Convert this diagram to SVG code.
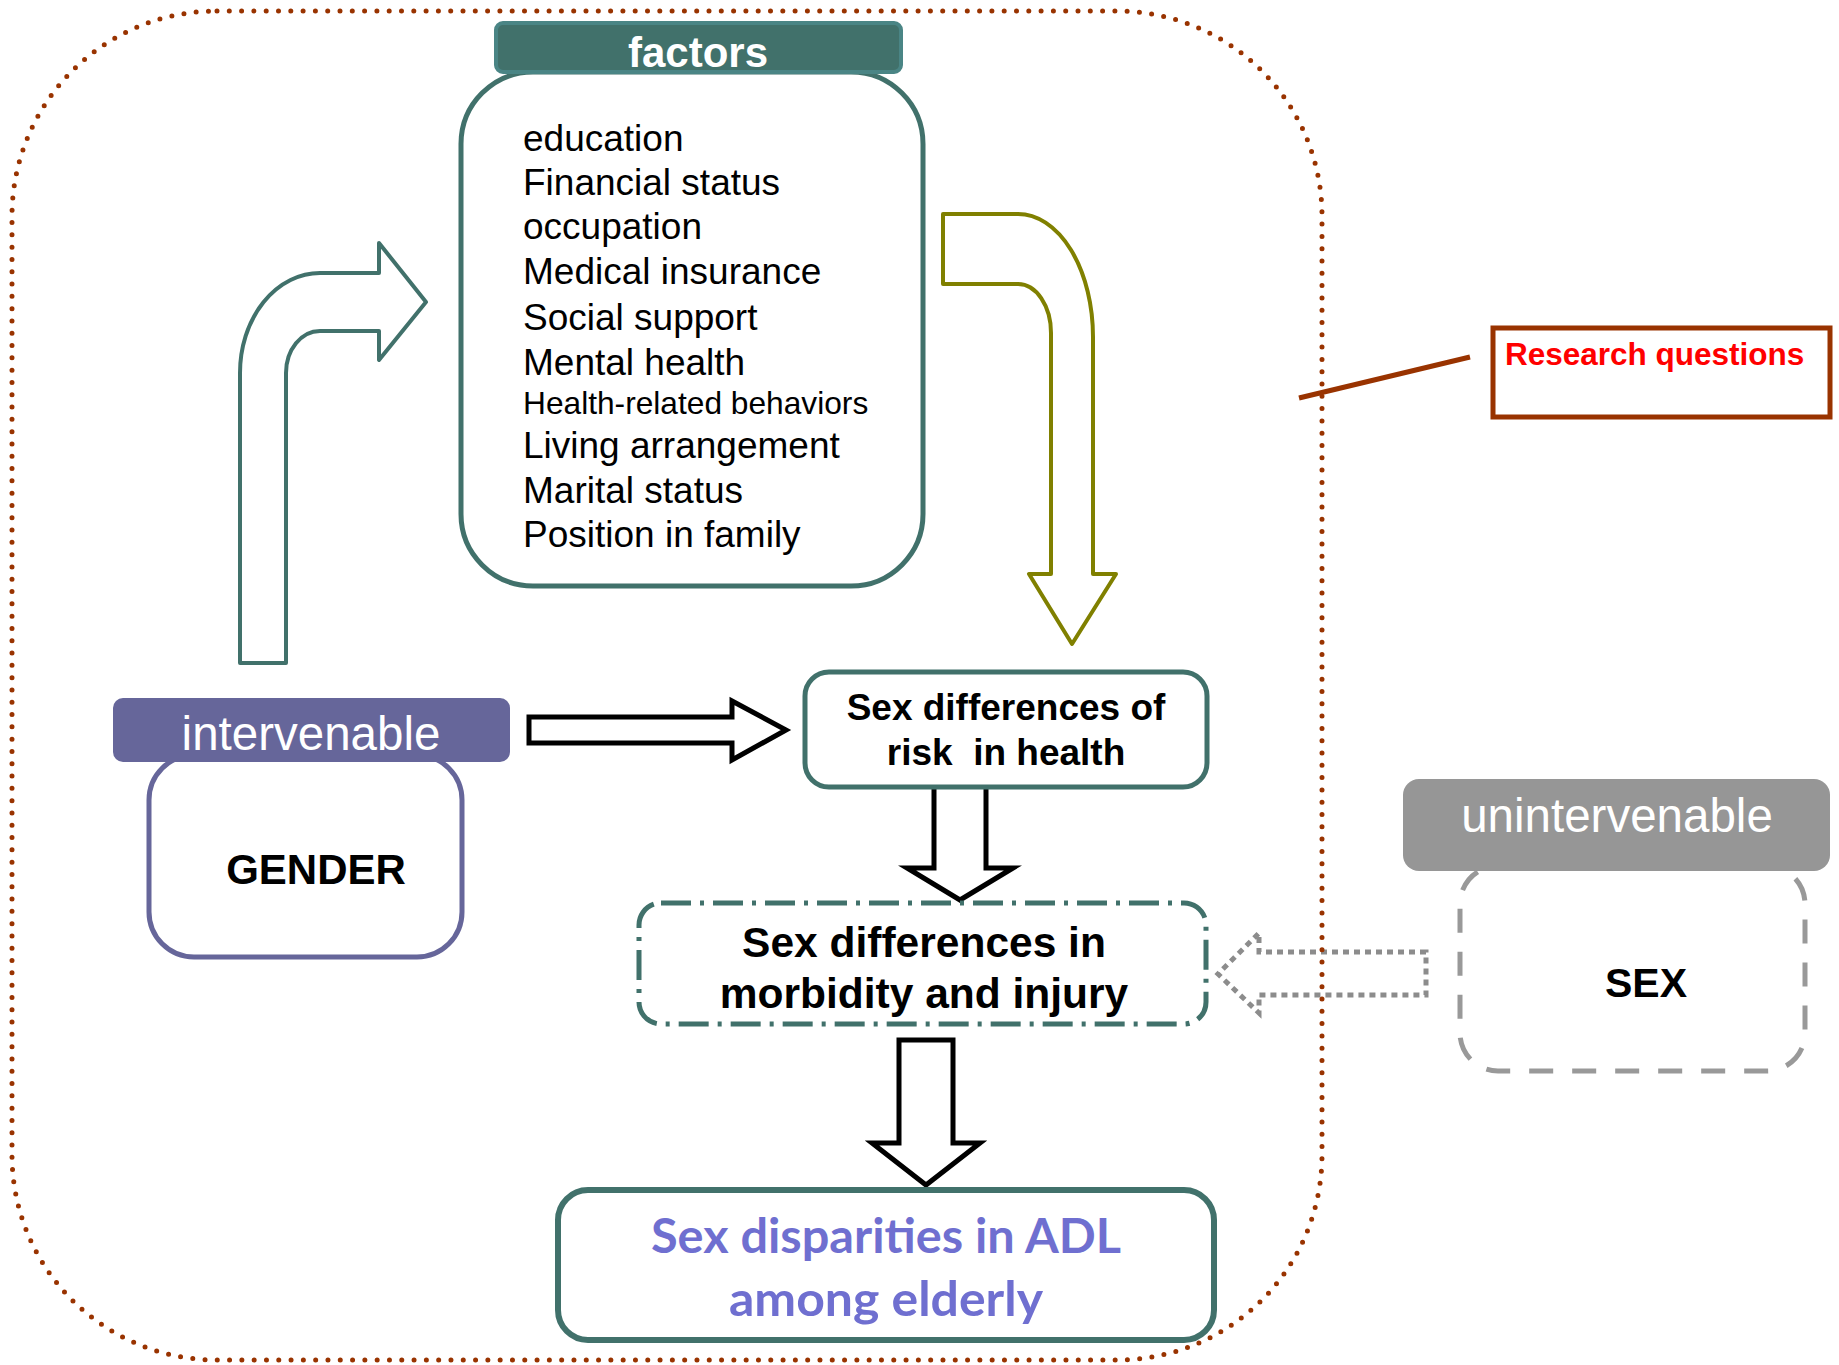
<svg xmlns="http://www.w3.org/2000/svg" width="1839" height="1365" viewBox="0 0 1839 1365">
<style>
  .teal { fill: #ffffff; stroke: #41716B; stroke-width: 5; }
  .blk { font-family: "Liberation Sans", Arial, sans-serif; fill: #000000; }
  .bold { font-weight: bold; }
  .hdr { font-family: "Liberation Sans", Arial, sans-serif; fill: #ffffff; text-anchor: middle; }
  .arrowBlk { fill: #ffffff; stroke: #000000; stroke-width: 5; stroke-linejoin: miter; }
  .mid { text-anchor: middle; }
</style>
<rect width="1839" height="1365" fill="#ffffff"/>

<g id="connectors">
  <path id="sex-arrow" d="M 1426 952 L 1259 952 L 1259 933 L 1218 974 L 1259 1013 L 1259 995 L 1426 995 Z" fill="none" stroke="#8C8C8C" stroke-width="5" stroke-dasharray="6 5"/>
</g>

<g id="scope">
  <rect x="12" y="11" width="1310" height="1349" rx="205" ry="205" fill="none" stroke="#993300" stroke-width="5" stroke-linecap="round" stroke-dasharray="0 12.3"/>
</g>

<g id="connectors-main">
  <path id="gender-to-factors" d="M 240 663 L 240 373 A 80 100 0 0 1 320 273 L 379 273 L 379 243 L 426 302 L 379 360 L 379 331 L 320 331 A 34 42 0 0 0 286 373 L 286 663 Z" fill="#ffffff" stroke="#41716B" stroke-width="4" stroke-linejoin="round"/>
  <path id="factors-to-risk" d="M 943 214 L 1018 214 A 75 123 0 0 1 1093 337 L 1093 574 L 1116 574 L 1072 644 L 1029 574 L 1051 574 L 1051 333 A 33 49 0 0 0 1018 284 L 943 284 Z" fill="#ffffff" stroke="#808000" stroke-width="4" stroke-linejoin="round"/>
  <path id="gender-to-risk" class="arrowBlk" d="M 529 717 L 732 717 L 732 701 L 786 730 L 732 760 L 732 743 L 529 743 Z"/>
  <path id="risk-to-morbidity" class="arrowBlk" d="M 934 785 L 986 785 L 986 868 L 1013 868 L 960 900 L 907 868 L 934 868 Z"/>
  <path id="morbidity-to-adl" class="arrowBlk" d="M 899 1040 L 953 1040 L 953 1143 L 980 1143 L 926 1185 L 872 1143 L 899 1143 Z"/>
  <line id="rq-line" x1="1299" y1="398" x2="1470" y2="357" stroke="#993300" stroke-width="5"/>
</g>

<g id="factors">
  <rect class="teal" x="461" y="72" width="462" height="514" rx="72" ry="72"/>
  <rect x="496" y="23" width="405" height="49" rx="7" fill="#41716B" stroke="#4A8585" stroke-width="4"/>
  <text class="hdr bold" x="698" y="67" font-size="42">factors</text>
  <g class="blk" font-size="37">
    <text x="523" y="151">education</text>
    <text x="523" y="195">Financial status</text>
    <text x="523" y="239">occupation</text>
    <text x="523" y="284">Medical insurance</text>
    <text x="523" y="330">Social support</text>
    <text x="523" y="375">Mental health</text>
    <text x="523" y="414" font-size="31.7">Health-related behaviors</text>
    <text x="523" y="458">Living arrangement</text>
    <text x="523" y="503">Marital status</text>
    <text x="523" y="547">Position in family</text>
  </g>
</g>

<g id="gender">
  <rect x="149" y="755" width="313" height="202" rx="45" ry="45" fill="#ffffff" stroke="#66669A" stroke-width="5"/>
  <rect x="113" y="698" width="397" height="64" rx="10" ry="10" fill="#66669A"/>
  <text class="hdr" x="311" y="750" font-size="47.5">intervenable</text>
  <text class="blk bold mid" x="316" y="884" font-size="42">GENDER</text>
</g>

<g id="risk">
  <rect class="teal" x="805" y="672" width="402" height="115" rx="24" ry="24"/>
  <text class="blk bold mid" x="1006" y="720" font-size="37">Sex differences of</text>
  <text class="blk bold mid" x="1006" y="765" font-size="37" style="white-space:pre">risk  in health</text>
</g>

<g id="morbidity">
  <rect x="639" y="903" width="567" height="121" rx="22" ry="22" fill="none" stroke="#41716B" stroke-width="5" stroke-dasharray="30 9 4 9"/>
  <text class="blk bold mid" x="924" y="957" font-size="42.5">Sex differences in</text>
  <text class="blk bold mid" x="924" y="1008" font-size="42.5">morbidity and injury</text>
</g>

<g id="adl">
  <rect x="558" y="1190" width="656" height="150" rx="30" ry="30" fill="#ffffff" stroke="#41716B" stroke-width="6"/>
  <text x="886" y="1253" font-family="Lato, 'Open Sans', sans-serif" font-weight="bold" font-size="47" fill="#6F6FD0" text-anchor="middle" textLength="470" lengthAdjust="spacingAndGlyphs">Sex disparities in ADL</text>
  <text x="886" y="1316" font-family="Lato, 'Open Sans', sans-serif" font-weight="bold" font-size="47" fill="#6F6FD0" text-anchor="middle" textLength="314" lengthAdjust="spacingAndGlyphs">among elderly</text>
</g>

<g id="sex">
  <rect x="1460" y="866" width="345" height="205" rx="38" ry="38" fill="none" stroke="#999999" stroke-width="5" stroke-dasharray="24 19"/>
  <rect x="1403" y="779" width="427" height="92" rx="16" ry="16" fill="#969696"/>
  <text class="hdr" x="1617" y="832" font-size="47.5">unintervenable</text>
  <text class="blk bold mid" x="1646" y="997" font-size="41">SEX</text>
</g>

<g id="research-questions">
  <rect x="1493" y="328" width="337" height="89" fill="#ffffff" stroke="#993300" stroke-width="5"/>
  <text x="1505" y="365" font-family="'Liberation Sans', Arial, sans-serif" font-weight="bold" font-size="31.5" fill="#FF0000">Research questions</text>
</g>
</svg>
